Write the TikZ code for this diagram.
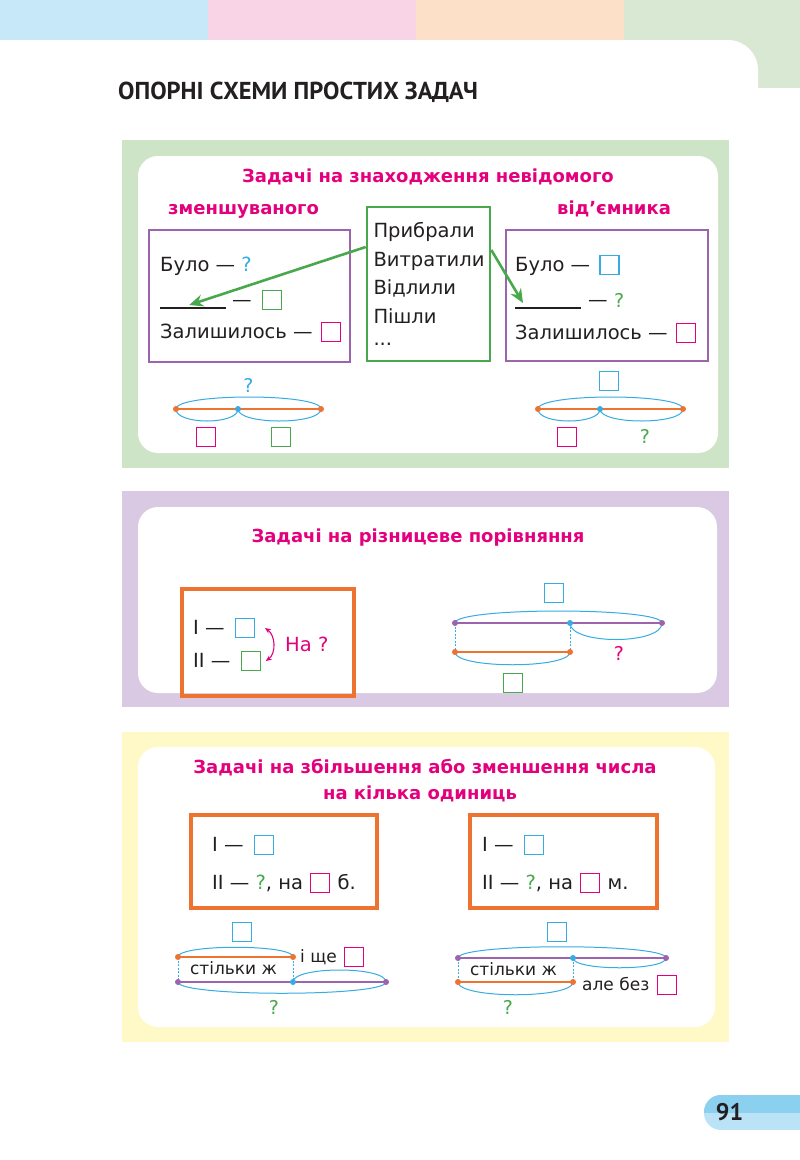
\documentclass[tikz,border=0pt]{standalone}
\usepackage{fontspec}
\setmainfont{DejaVu Sans}
\newfontfamily\headfont{PT Sans}
\usetikzlibrary{arrows.meta, positioning, calc}
\usepackage{xcolor}
\definecolor{schemeink}{RGB}{35,31,32}
\definecolor{schememagenta}{RGB}{228,0,125}
\definecolor{schemecyan}{RGB}{55,172,226}
\definecolor{schemegreen}{RGB}{74,168,76}
\definecolor{schemepurple}{RGB}{155,100,172}
\definecolor{schemeorange}{RGB}{238,114,48}
\definecolor{stripblue}{RGB}{198,232,248}
\definecolor{strippink}{RGB}{249,211,230}
\definecolor{strippeach}{RGB}{253,224,200}
\definecolor{stripgreen}{RGB}{217,232,211}
\definecolor{panelgreen}{RGB}{206,228,199}
\definecolor{panelviolet}{RGB}{217,201,227}
\definecolor{panelyellow}{RGB}{255,249,199}
\definecolor{tabblue}{RGB}{140,208,240}
\definecolor{tablight}{RGB}{186,227,247}

\begin{document}
\begin{tikzpicture}[
  x=1pt, y=-1pt,
  txt/.style={font=\fontsize{19.5}{24}\selectfont, text=schemeink, inner sep=0pt,
              text height=14pt, text depth=0.8pt},
  small/.style={font=\fontsize{17}{20}\selectfont, text=schemeink, inner sep=0pt,
                text height=12.2pt, text depth=0.7pt},
  head/.style={font=\bfseries\fontsize{18}{21}\selectfont, text=schememagenta,
               inner sep=0pt, text height=13.1pt, text depth=0.7pt},
  qm/.style={font=\fontsize{19}{22}\selectfont, text=#1, inner sep=0pt},
  sq/.style={draw=#1, line width=1.1pt, minimum size=19pt, inner sep=0pt},
  frame/.style={draw=#1, line width=2.6pt, inner sep=0pt},
  gap/.style={minimum width=66pt, minimum height=0pt, inner sep=0pt},
  seg/.style={line width=1.6pt, #1},
  arc/.style={schemecyan, line width=1pt},
  guide/.style={schemecyan, line width=0.8pt, dash pattern=on 2pt off 1.5pt},
  garr/.style={-{Stealth[length=14pt, width=12pt]}, schemegreen, line width=2.6pt},
  cmparr/.style={{Stealth[length=6pt, width=5pt]}-{Stealth[length=6pt, width=5pt]},
                 schememagenta, line width=1.1pt},
]
  \useasboundingbox (0,0) rectangle (800,1160);

  % Page header
  \fill[stripblue] (0,0) rectangle (208,40);
  \fill[strippink] (208,0) rectangle (416,40);
  \fill[strippeach] (416,0) rectangle (624,40);
  \fill[stripgreen] (624,0) rectangle (800,88);
  \fill[white, rounded corners=30pt] (-40,40) rectangle (758,300);
  \node[font=\headfont\bfseries\fontsize{24.5}{28}\selectfont, text=schemeink,
        anchor=west, inner sep=0pt] (title) at (118,92) {ОПОРНІ СХЕМИ ПРОСТИХ ЗАДАЧ};

  % Panel 1: unknown minuend / subtrahend
  \fill[panelgreen] (122,140) rectangle (729,468);
  \fill[white, rounded corners=20pt] (138,156) rectangle (718,453);
  \node[head] (h1) at (428,176) {Задачі на знаходження невідомого};
  \node[head, anchor=west] (h1l) at (168,208) {зменшуваного};
  \node[head, anchor=west] (h1r) at (557,208) {від’ємника};

  \node[frame=schemepurple, minimum width=201pt, minimum height=132pt] (takenL) at (249.5,296) {};
  \node[txt, anchor=west] (wasL) at (160,265) {Було — \textcolor{schemecyan}{?}};
  \node[gap, anchor=south west] (blankL) at (160,308) {};
  \draw[schemeink, line width=1.3pt] (blankL.south west) -- (blankL.south east);
  \node[txt, anchor=west] (dashL) at (232,300) {—};
  \node[sq=schemegreen, right=10pt of dashL] (boxL2) {};
  \node[txt, anchor=west] (leftL) at (160,332) {Залишилось —};
  \node[sq=schememagenta, right=8pt of leftL] (boxL3) {};

  \node[frame=schemegreen, text width=110pt, inner xsep=6.5pt, minimum height=154pt,
        align=left, font=\fontsize{19.5}{28.5}\selectfont, text=schemeink] (acts)
        at (428.5,284) {Прибрали\\Витратили\\Відлили\\Пішли\\[-6pt]...};

  \node[frame=schemepurple, minimum width=202pt, minimum height=131pt] (takenR) at (607,295.5) {};
  \node[txt, anchor=west] (wasR) at (515,265) {Було —};
  \node[sq=schemecyan, right=9pt of wasR] (boxR1) {};
  \node[gap, anchor=south west] (blankR) at (515,308) {};
  \draw[schemeink, line width=1.3pt] (blankR.south west) -- (blankR.south east);
  \node[txt, anchor=west] (dashR) at (588,300) {—};
  \node[qm=schemegreen, right=6pt of dashR] (qR2) {?};
  \node[txt, anchor=west] (leftR) at (515,333) {Залишилось —};
  \node[sq=schememagenta, right=8pt of leftR] (boxR3) {};

  \draw[garr] ([yshift=37pt]acts.west) -- ([xshift=-4pt, yshift=3pt]blankL.south);
  \draw[garr] ([yshift=34pt]acts.east) -- ([xshift=8pt, yshift=5pt]blankR.south west);

  % Segment schemes, panel 1
  \coordinate (zL) at (176,409);
  \coordinate (zM) at (238,409);
  \coordinate (zR) at (321,409);
  \draw[seg=schemeorange] (zL) -- (zM);
  \draw[seg=schemeorange, line width=2.8pt] (zM) -- (zR);
  \draw[arc] (zL) .. controls +(0,-16) and +(0,-16) .. (zR);
  \draw[arc] (zL) .. controls +(0,16) and +(0,16) .. (zM);
  \draw[arc] (zM) .. controls +(0,16) and +(0,16) .. (zR);
  \fill[schemeorange] (zL) circle (3pt) (zR) circle (3pt);
  \fill[schemecyan] (zM) circle (3pt);
  \node[qm=schemecyan] (qL) at (248.5,385) {?};
  \node[sq=schememagenta] (partL1) at (206,437) {};
  \node[sq=schemegreen] (partL2) at (281,437) {};

  \coordinate (dL) at (538,409);
  \coordinate (dM) at (600,409);
  \coordinate (dR) at (683,409);
  \draw[seg=schemeorange] (dL) -- (dM);
  \draw[seg=schemeorange, line width=2.8pt] (dM) -- (dR);
  \draw[arc] (dL) .. controls +(0,-16) and +(0,-16) .. (dR);
  \draw[arc] (dL) .. controls +(0,16) and +(0,16) .. (dM);
  \draw[arc] (dM) .. controls +(0,16) and +(0,16) .. (dR);
  \fill[schemeorange] (dL) circle (3pt) (dR) circle (3pt);
  \fill[schemecyan] (dM) circle (3pt);
  \node[sq=schemecyan] (wholeR) at (609,381) {};
  \node[sq=schememagenta] (partR1) at (567,437) {};
  \node[qm=schemegreen] (qR) at (645,436) {?};

  % Panel 2: difference comparison
  \fill[panelviolet] (122,491) rectangle (729,707);
  \fill[white, rounded corners=20pt] (138,507) rectangle (717,693);
  \node[head] (h2) at (418,536) {Задачі на різницеве порівняння};

  \node[frame=schemeorange, line width=3.4pt, minimum width=172pt, minimum height=107pt] (cmp) at (268,642.5) {};
  \node[txt, anchor=west] (cmpIt) at (193,628) {I —};
  \node[sq=schemecyan, right=10pt of cmpIt] (cmpI) {};
  \node[txt, anchor=west] (cmpIIt) at (193,661) {II —};
  \node[sq=schemegreen, right=10pt of cmpIIt] (cmpII) {};
  \draw[cmparr] ([xshift=10pt]cmpI.east) to[out=-35, in=35] ([xshift=5pt]cmpII.east);
  \node[txt, text=schememagenta, anchor=west] (bywhat) at (285,645) {На ?};

  \coordinate (pL) at (455,623);
  \coordinate (pM) at (570,623);
  \coordinate (pR) at (662,623);
  \coordinate (oL) at (455,652);
  \coordinate (oR) at (570,652);
  \draw[guide] (pL) -- (oL);
  \draw[guide] (pM) -- (oR);
  \draw[seg=schemepurple] (pL) -- (pR);
  \draw[seg=schemeorange] (oL) -- (oR);
  \draw[arc] (pL) .. controls +(0,-16) and +(0,-16) .. (pR);
  \draw[arc] (pM) .. controls +(0,22) and +(0,22) .. (pR);
  \draw[arc] (oL) .. controls +(0,17) and +(0,17) .. (oR);
  \fill[schemepurple] (pL) circle (3pt) (pR) circle (3pt);
  \fill[schemecyan] (pM) circle (3pt);
  \fill[schemeorange] (oL) circle (3pt) (oR) circle (3pt);
  \node[sq=schemecyan] (wholeP) at (554,593) {};
  \node[qm=schememagenta] (diffP) at (619,653) {?};
  \node[sq=schemegreen] (lessP) at (513,683) {};

  % Panel 3: more / less by some units
  \fill[panelyellow] (122,732) rectangle (729,1042);
  \fill[white, rounded corners=20pt] (138,747) rectangle (715,1027);
  \node[head] (h3a) at (425,767) {Задачі на збільшення або зменшення числа};
  \node[head] (h3b) at (420,793) {на кілька одиниць};

  \node[frame=schemeorange, line width=3.4pt, minimum width=186pt, minimum height=93pt] (moreBox) at (284,861.5) {};
  \node[txt, anchor=west] (moreI) at (212,845) {I —};
  \node[sq=schemecyan, right=10pt of moreI] (moreIb) {};
  \node[txt, anchor=west] (moreII) at (212,883) {II — \textcolor{schemegreen}{?}, на};
  \node[sq=schememagenta, right=7pt of moreII] (moreIIb) {};
  \node[txt, right=7pt of moreIIb] (moreunit) {б.};

  \coordinate (ma) at (178,957);
  \coordinate (mb) at (293,957);
  \coordinate (na) at (178,982);
  \coordinate (nb) at (293,982);
  \coordinate (nc) at (386,982);
  \draw[guide] (ma) -- (na);
  \draw[guide] (mb) -- (nb);
  \draw[seg=schemeorange] (ma) -- (mb);
  \draw[seg=schemepurple] (na) -- (nc);
  \draw[arc] (ma) .. controls +(0,-13) and +(0,-13) .. (mb);
  \draw[arc] (nb) .. controls +(0,-16) and +(0,-16) .. (nc);
  \draw[arc] (na) .. controls +(0,15) and +(0,15) .. (nc);
  \fill[schemeorange] (ma) circle (3pt) (mb) circle (3pt);
  \fill[schemepurple] (na) circle (3pt) (nc) circle (3pt);
  \fill[schemecyan] (nb) circle (3pt);
  \node[sq=schemecyan] (moreWhole) at (242,932) {};
  \node[small, anchor=west] (andMore) at (300,957) {і ще};
  \node[sq=schememagenta, right=7pt of andMore] (andMoreb) {};
  \node[small] (sameL) at (233.5,969) {стільки ж};
  \node[qm=schemegreen] (moreQ) at (274,1007) {?};

  \node[frame=schemeorange, line width=3.4pt, minimum width=187pt, minimum height=93pt] (lessBox) at (563.5,861.5) {};
  \node[txt, anchor=west] (lessI) at (482,845) {I —};
  \node[sq=schemecyan, right=10pt of lessI] (lessIb) {};
  \node[txt, anchor=west] (lessII) at (482,883) {II — \textcolor{schemegreen}{?}, на};
  \node[sq=schememagenta, right=7pt of lessII] (lessIIb) {};
  \node[txt, right=7pt of lessIIb] (lessunit) {м.};

  \coordinate (ka) at (458,958);
  \coordinate (kb) at (573,958);
  \coordinate (kc) at (666,958);
  \coordinate (la) at (458,982);
  \coordinate (lb) at (573,982);
  \draw[guide] (ka) -- (la);
  \draw[guide] (kb) -- (lb);
  \draw[seg=schemepurple] (ka) -- (kc);
  \draw[seg=schemeorange] (la) -- (lb);
  \draw[arc] (ka) .. controls +(0,-15) and +(0,-15) .. (kc);
  \draw[arc] (kb) .. controls +(0,13) and +(0,13) .. (kc);
  \draw[arc] (la) .. controls +(0,17) and +(0,17) .. (lb);
  \fill[schemepurple] (ka) circle (3pt) (kc) circle (3pt);
  \fill[schemecyan] (kb) circle (3pt);
  \fill[schemeorange] (la) circle (3pt) (lb) circle (3pt);
  \node[sq=schemecyan] (lessWhole) at (557,932) {};
  \node[small] (sameR) at (513.5,970) {стільки ж};
  \node[small, anchor=west] (butLess) at (582,985) {але без};
  \node[sq=schememagenta, right=7pt of butLess] (butLessb) {};
  \node[qm=schemegreen] (lessQ) at (508,1007) {?};

  % Page number
  \begin{scope}
    \clip[rounded corners=17pt] (704,1095) rectangle (850,1130);
    \fill[tablight] (704,1095) rectangle (800,1130);
    \fill[tabblue] (704,1095) rectangle (800,1113);
  \end{scope}
  \node[font=\headfont\bfseries\fontsize{24}{28}\selectfont, text=schemeink,
        inner sep=0pt] (pageno) at (729.5,1112) {91};
\end{tikzpicture}
\end{document}
